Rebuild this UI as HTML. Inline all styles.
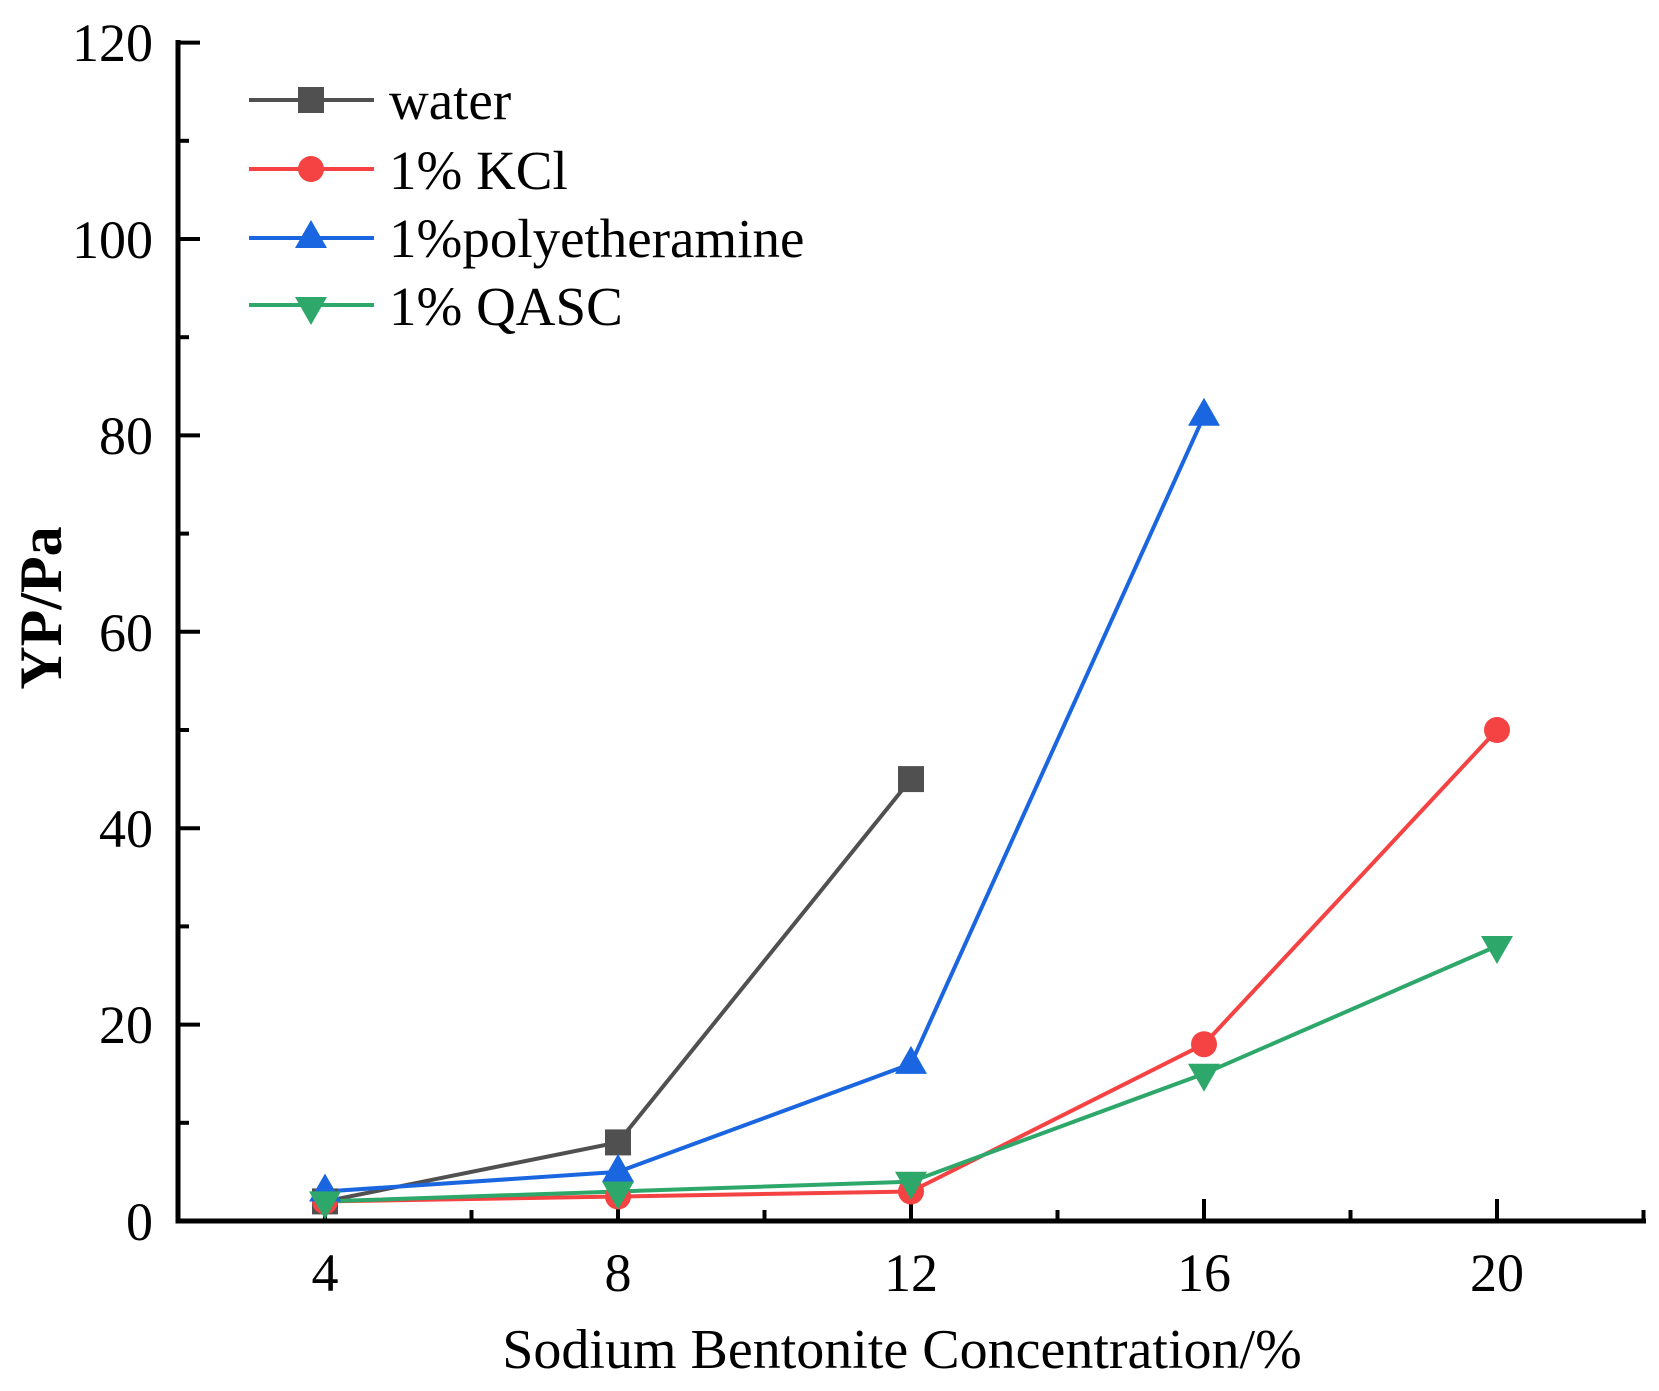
<!DOCTYPE html>
<html><head><meta charset="utf-8"><style>html,body{margin:0;padding:0;background:#fff}svg{display:block}</style></head>
<body>
<svg width="1659" height="1391" viewBox="0 0 1659 1391" xmlns="http://www.w3.org/2000/svg" font-family="Liberation Serif, serif">
<rect width="1659" height="1391" fill="#fff"/>
<g stroke="#000" stroke-width="5" fill="none">
<line x1="178" y1="40" x2="178" y2="1223.5"/>
<line x1="175.5" y1="1221" x2="1646" y2="1221"/>
</g>
<g stroke="#000" stroke-width="4">
<line x1="178" y1="1221" x2="200" y2="1221"/><line x1="178" y1="1024.6" x2="200" y2="1024.6"/><line x1="178" y1="828.2" x2="200" y2="828.2"/><line x1="178" y1="631.8" x2="200" y2="631.8"/><line x1="178" y1="435.4" x2="200" y2="435.4"/><line x1="178" y1="239" x2="200" y2="239"/><line x1="178" y1="42.6" x2="200" y2="42.6"/>
<line x1="178" y1="1122.8" x2="189" y2="1122.8"/><line x1="178" y1="926.4" x2="189" y2="926.4"/><line x1="178" y1="730" x2="189" y2="730"/><line x1="178" y1="533.6" x2="189" y2="533.6"/><line x1="178" y1="337.2" x2="189" y2="337.2"/><line x1="178" y1="140.8" x2="189" y2="140.8"/>
<line x1="325" y1="1221" x2="325" y2="1199"/><line x1="618" y1="1221" x2="618" y2="1199"/><line x1="911" y1="1221" x2="911" y2="1199"/><line x1="1204" y1="1221" x2="1204" y2="1199"/><line x1="1497" y1="1221" x2="1497" y2="1199"/>
<line x1="471.5" y1="1221" x2="471.5" y2="1210"/><line x1="764.5" y1="1221" x2="764.5" y2="1210"/><line x1="1057.5" y1="1221" x2="1057.5" y2="1210"/><line x1="1350.5" y1="1221" x2="1350.5" y2="1210"/><line x1="1643.5" y1="1221" x2="1643.5" y2="1210"/>
</g>
<g font-size="54" fill="#000" text-anchor="end">
<text x="153" y="1240">0</text><text x="153" y="1043">20</text><text x="153" y="847">40</text><text x="153" y="651">60</text><text x="153" y="454">80</text><text x="153" y="258">100</text><text x="153" y="61">120</text>
</g>
<g font-size="54" fill="#000" text-anchor="middle">
<text x="325" y="1291">4</text><text x="618" y="1291">8</text><text x="911" y="1291">12</text><text x="1204" y="1291">16</text><text x="1497" y="1291">20</text>
</g>
<text x="902" y="1368" font-size="56" text-anchor="middle" fill="#000">Sodium Bentonite Concentration/%</text>
<text transform="translate(61,608) rotate(-90)" font-size="60" font-weight="bold" text-anchor="middle" fill="#000">YP/Pa</text>
<g fill="none" stroke-width="4" stroke-linejoin="round">
<polyline stroke="#505050" points="325,1201.4 618,1142.4 911,779.1"/>
<polyline stroke="#f54242" points="325,1201.4 618,1196.5 911,1191.5 1204,1044.2 1497,730"/>
<polyline stroke="#1a66e0" points="325,1191.5 618,1171.9 911,1063.9 1204,415.8"/>
<polyline stroke="#2ea86a" points="325,1201.4 618,1191.5 911,1181.7 1204,1073.7 1497,946"/>
</g>
<g fill="#505050"><rect x="312" y="1188.4" width="26" height="26"/><rect x="605" y="1129.4" width="26" height="26"/><rect x="898" y="766.1" width="26" height="26"/></g>
<g fill="#f54242"><circle cx="325" cy="1201.4" r="13"/><circle cx="618" cy="1196.5" r="13"/><circle cx="911" cy="1191.5" r="13"/><circle cx="1204" cy="1044.2" r="13"/><circle cx="1497" cy="730" r="13"/></g>
<g fill="#1a66e0">
<polygon points="325,1173.5 341,1201.5 309,1201.5"/><polygon points="618,1153.9 634,1181.9 602,1181.9"/><polygon points="911,1045.9 927,1073.9 895,1073.9"/><polygon points="1204,397.8 1220,425.8 1188,425.8"/>
</g>
<g fill="#2ea86a">
<polygon points="325,1219.4 341,1191.4 309,1191.4"/><polygon points="618,1209.5 634,1181.5 602,1181.5"/><polygon points="911,1199.7 927,1171.7 895,1171.7"/><polygon points="1204,1091.7 1220,1063.7 1188,1063.7"/><polygon points="1497,964 1513,936 1481,936"/>
</g>
<g stroke-width="4">
<line x1="249" y1="100" x2="374" y2="100" stroke="#505050"/>
<line x1="249" y1="169" x2="374" y2="169" stroke="#f54242"/>
<line x1="249" y1="238" x2="374" y2="238" stroke="#1a66e0"/>
<line x1="249" y1="305" x2="374" y2="305" stroke="#2ea86a"/>
</g>
<rect x="298" y="87" width="26" height="26" fill="#505050"/>
<circle cx="311" cy="169" r="13" fill="#f54242"/>
<polygon points="311,220 327,248 295,248" fill="#1a66e0"/>
<polygon points="311,325 327,297 295,297" fill="#2ea86a"/>
<g font-size="55" fill="#000">
<text x="389" y="119">water</text>
<text x="389" y="189">1% KCl</text>
<text x="389" y="257">1%polyetheramine</text>
<text x="389" y="325">1% QASC</text>
</g>
</svg>
</body></html>
